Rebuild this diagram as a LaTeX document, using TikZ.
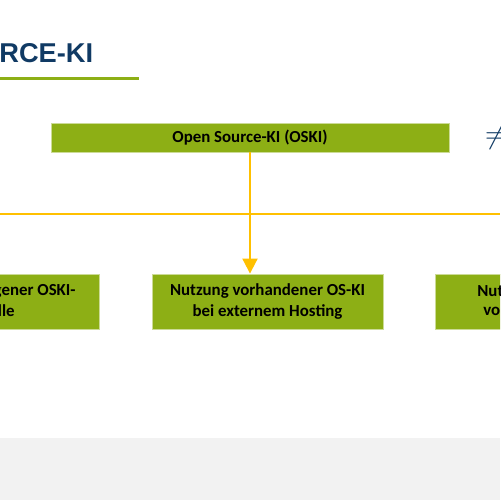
\documentclass[tikz,border=0pt]{standalone}
\usepackage{fontspec}
\setmainfont{Carlito}
\newfontfamily\titlefont{Liberation Sans}
\usepackage{tikz}
\usetikzlibrary{arrows.meta,positioning}

\definecolor{oskigreen}{RGB}{141,175,21}
\definecolor{oskiblue}{RGB}{16,58,100}
\definecolor{oskiyellow}{RGB}{255,192,0}

\begin{document}
\begin{tikzpicture}[x=0.02cm, y=-0.02cm, node distance=1.04cm,
		every node/.style={font=\fontsize{9.6}{11.4}\selectfont\bfseries},
		box/.style={draw=oskigreen!45, line width=0.5pt, fill=oskigreen, text=black, inner sep=0pt},
		flow/.style={draw=oskiyellow, line width=0.04cm}]
	\useasboundingbox (0,0) rectangle (500,500);
	\clip (0,0) rectangle (500,500);
	\fill[black!5] (0,438) rectangle (500,500);

	% Titel
	\node[anchor=west, inner sep=0pt, text=oskiblue, font=\titlefont\fontsize{15.5}{18}\selectfont\bfseries] (title) at (-1,53) {RCE-KI};
	\coordinate (rulel) at (0,79);
	\coordinate (ruler) at (139,79);
	\draw[oskigreen, line width=0.06cm] (rulel) -- (ruler);

	\node[box, minimum width=7.96cm, minimum height=0.58cm] (oski) at (250,137.5) {Open Source-KI (OSKI)};
	\node[text=oskiblue, inner sep=0pt, font=\fontsize{17}{17}\selectfont] (neq) at (496,136) {$\neq$};

	% untere Ebene
	\node[box, minimum width=4.62cm, minimum height=1.1cm, align=center] (mid) at (267.5,301.5) {Nutzung vorhandener OS-KI\\bei externem Hosting};
	\node[box, minimum width=4.62cm, minimum height=1.1cm, left=of mid] (own) {};
	\node[box, minimum width=4.62cm, minimum height=1.1cm, right=of mid] (local) {};
	\node[anchor=east, inner sep=0pt] (own1) at (76,291) {gener OSKI-};
	\node[anchor=east, inner sep=0pt] (own2) at (15,311) {lle};
	\node[anchor=west, inner sep=0pt] (local1) at (477,291) {Nut};
	\node[anchor=west, inner sep=0pt] (local2) at (483,311) {vo};

	% Verbindungen
	\coordinate (hl) at (0,214);
	\coordinate (hr) at (500,214);
	\draw[flow] (hl) -- (hr);
	\draw[flow, -{Triangle[width=0.3cm,length=0.3cm]}] (oski.south) -- (oski.south |- mid.north);
\end{tikzpicture}
\end{document}
